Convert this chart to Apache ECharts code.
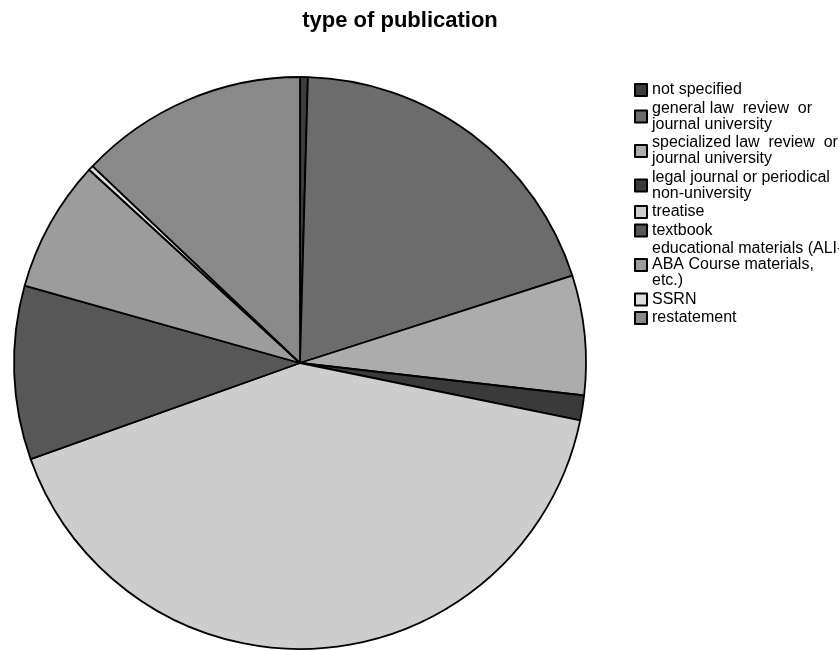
<!DOCTYPE html>
<html>
<head>
<meta charset="utf-8">
<script src="https://cdn.jsdelivr.net/npm/echarts@6/dist/echarts.min.js"></script>
<style>
  html, body { margin: 0; padding: 0; background: #ffffff; }
  #chart { width: 839px; height: 650px; }
</style>
</head>
<body>
<div id="chart"></div>
<script>
var chartTitle = 'type of publication';
var categories = [
  'not specified',
  'general law review or journal university',
  'specialized law review or journal university',
  'legal journal or periodical non-university',
  'treatise',
  'textbook',
  'educational materials (ALI-ABA Course materials, etc.)',
  'SSRN',
  'restatement'
];
var legendLabels = [
  'not specified',
  'general law  review  or\njournal university',
  'specialized law  review  or\njournal university',
  'legal journal or periodical\nnon-university',
  'treatise',
  'textbook',
  'educational materials (ALI-\nABA Course materials,\netc.)',
  'SSRN',
  'restatement'
];
var shares = [0.44, 19.6, 6.75, 1.4, 41.3, 9.8, 7.45, 0.28, 12.9];
var sliceColors = ['#3c3c3c', '#6c6c6c', '#acacac', '#3a3a3a', '#cdcdcd', '#575757', '#9c9c9c', '#dedede', '#898989'];

var chart = echarts.init(document.getElementById('chart'), null, { renderer: 'canvas' });
var labelMap = {};
categories.forEach(function (c, i) { labelMap[c] = legendLabels[i]; });

var FONT = '"Liberation Sans", Arial, Helvetica, sans-serif';

chart.setOption({
  animation: false,
  backgroundColor: '#ffffff',
  title: {
    text: chartTitle,
    left: 400,
    textAlign: 'center',
    top: 10,
    padding: 0,
    textStyle: { fontFamily: FONT, fontSize: 22, fontWeight: 'bold', color: '#000000' }
  },
  legend: {
    orient: 'vertical',
    left: 634,
    top: 82,
    padding: 0,
    itemWidth: 12,
    itemHeight: 12,
    itemGap: 2.5,
    icon: 'rect',
    selectedMode: false,
    data: categories,
    formatter: function (name) { return labelMap[name]; },
    textStyle: { fontFamily: FONT, fontSize: 16, lineHeight: 16, color: '#000000' }
  },
  series: [{
    type: 'pie',
    center: [300, 363],
    radius: [0, 286],
    startAngle: 90,
    clockwise: true,
    avoidLabelOverlap: false,
    label: { show: false },
    labelLine: { show: false },
    emphasis: { disabled: true },
    itemStyle: { borderColor: '#000000', borderWidth: 1.8 },
    data: categories.map(function (c, i) {
      return { name: c, value: shares[i], itemStyle: { color: sliceColors[i] } };
    })
  }]
});
</script>
</body>
</html>
